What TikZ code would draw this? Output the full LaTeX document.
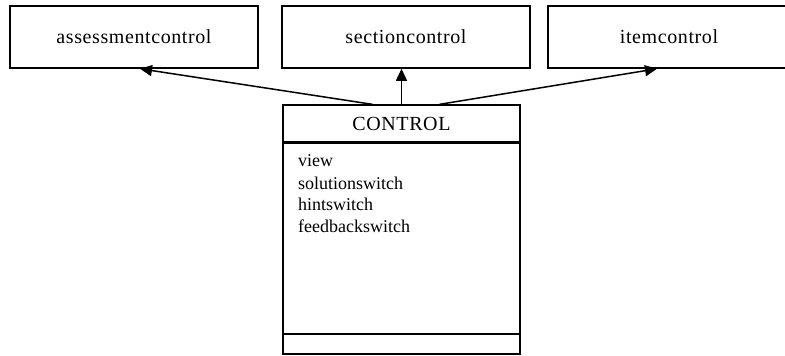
\documentclass[tikz,border=0pt]{standalone}
\usepackage{fontspec}
\setmainfont{Liberation Serif}
\newfontfamily\labfont[LetterSpace=3]{Liberation Serif}
\usetikzlibrary{arrows.meta}
\begin{document}
\begin{tikzpicture}[x=1pt,y=1pt,
  box/.style={draw,line width=1.5pt,minimum height=62pt,inner sep=0pt,font=\labfont\fontsize{20}{22}\selectfont},
  cls/.style={draw,line width=1.3pt,inner sep=0pt,minimum width=237pt},
  arr/.style={line width=1.5pt,-{Triangle[length=12pt,width=11pt]}},
  attr/.style={anchor=base west,inner sep=0pt,font=\fontsize{18}{22}\selectfont}]
\useasboundingbox (0,0) rectangle (785,-356);
\begin{scope}
\clip (0,0) rectangle (785,-356);
\node[box,minimum width=248pt] (a) at (134,-37) {assessmentcontrol};
\node[box,minimum width=248pt] (s) at (406,-37) {sectioncontrol};
\node[box,minimum width=264pt] (i) at (680,-37) {\hspace*{-22pt}itemcontrol};
\node[cls,minimum height=37pt,font=\labfont\fontsize{20}{22}\selectfont] (c) at (401.5,-123.5) {CONTROL};
\node[cls,minimum height=192pt] (body) at (401.5,-238) {};
\node[cls,minimum height=20pt] (foot) at (401.5,-344) {};
\draw[line width=3pt] (c.south west) -- (c.south east);
\node[attr] (v1) at (298,-166) {view};
\node[attr] (v2) at (298,-189) {solutionswitch};
\node[attr] (v3) at (298,-210) {hintswitch};
\node[attr] (v4) at (298,-232) {feedbackswitch};
\draw[arr] ([xshift=-29pt]c.north) -- ([xshift=6pt]a.south);
\draw[arr] (c.north) -- (c.north |- s.south);
\draw[arr] ([xshift=38pt]c.north) -- ([xshift=-23pt]i.south);
\end{scope}
\end{tikzpicture}
\end{document}
